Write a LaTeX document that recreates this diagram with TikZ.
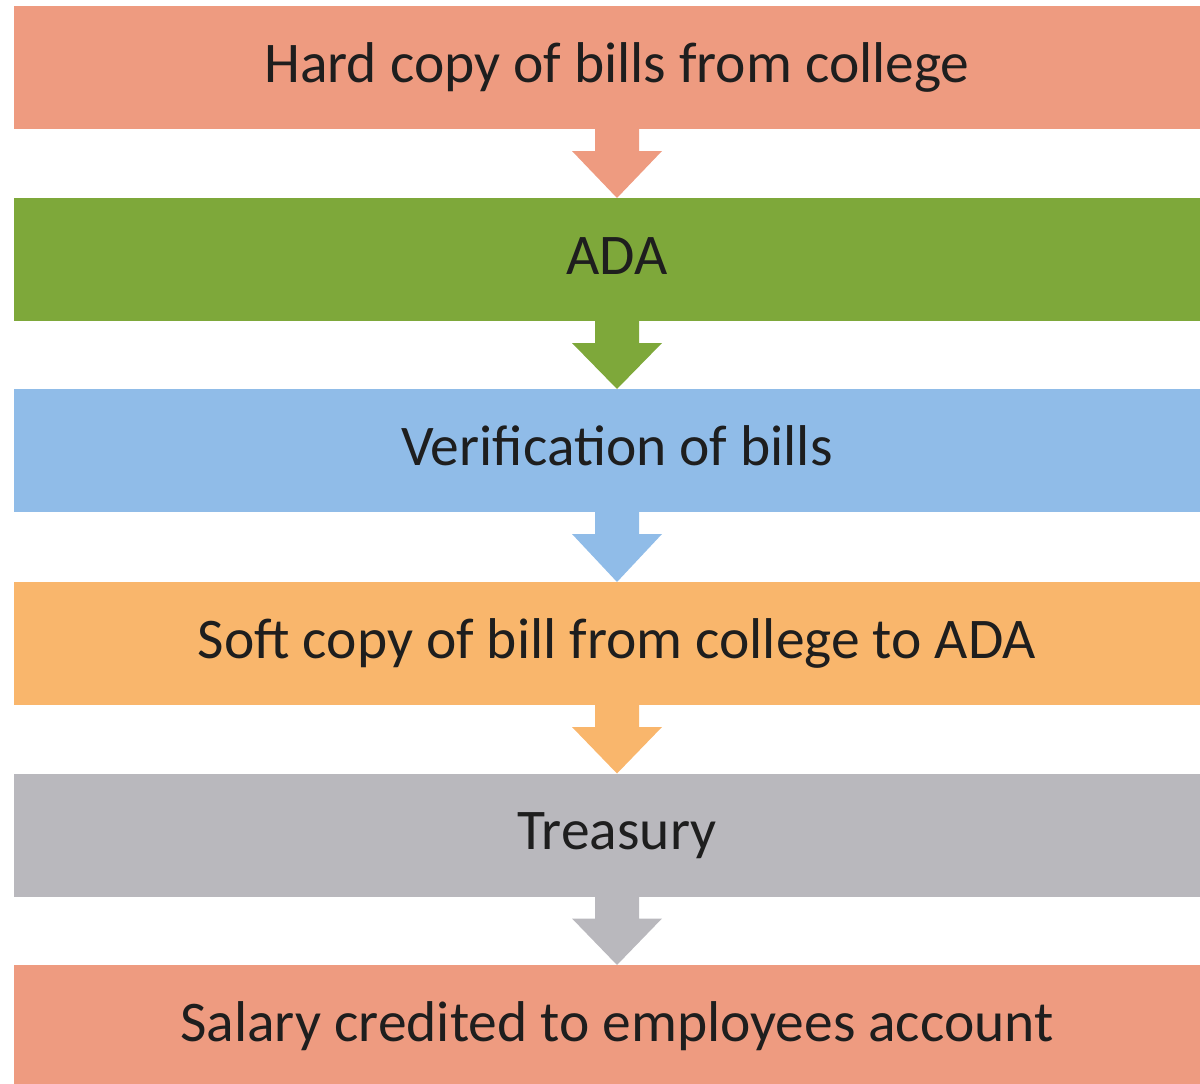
\documentclass[tikz,border=0pt]{standalone}
\usepackage{fontspec}
\setmainfont{Carlito}
\usetikzlibrary{calc}
\definecolor{csalmon}{HTML}{EE9B80}
\definecolor{cgreen}{HTML}{7EA83A}
\definecolor{cblue}{HTML}{90BCE8}
\definecolor{corange}{HTML}{F9B66C}
\definecolor{cgray}{HTML}{B9B8BD}
\definecolor{ctext}{HTML}{1E1E1E}
\tikzset{
  bar/.style={rectangle, inner sep=0pt, outer sep=0pt, minimum width=1206pt, minimum height=123pt,
    text height=42pt, text depth=13pt, text=ctext, font=\fontsize{57.5}{69}\selectfont},
}
\newcommand{\flowarrow}[3]{%
  \fill[#3] ($(#1.south)+(-22,-1)$) -- ($(#1.south)+(-22,22)$) -- ($(#1.south)+(-45,22)$)
    -- (#2.north) -- ($(#1.south)+(45,22)$) -- ($(#1.south)+(22,22)$) -- ($(#1.south)+(22,-1)$) -- cycle;}
\begin{document}
\begin{tikzpicture}[x=1pt,y=-1pt]
\useasboundingbox (0,0) rectangle (1200,1084);
\clip (0,0) rectangle (1200,1084);
\node[bar, fill=csalmon] (b1) at (617,67.5) {Hard copy of bills from college};
\node[bar, fill=cgreen] (b2) at (617,259.5) {ADA};
\node[bar, fill=cblue] (b3) at (617,450.5) {Verification of bills};
\node[bar, fill=corange] (b4) at (617,643.5) {Soft copy of bill from college to ADA};
\node[bar, fill=cgray] (b5) at (617,835) {Treasury};
\node[bar, fill=csalmon] (b6) at (617,1026.5) {Salary credited to employees account};
\flowarrow{b1}{b2}{csalmon}
\flowarrow{b2}{b3}{cgreen}
\flowarrow{b3}{b4}{cblue}
\flowarrow{b4}{b5}{corange}
\flowarrow{b5}{b6}{cgray}
\end{tikzpicture}
\end{document}
